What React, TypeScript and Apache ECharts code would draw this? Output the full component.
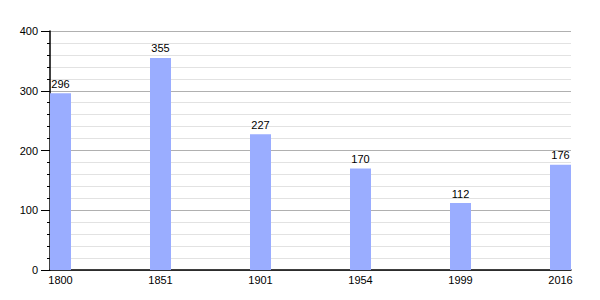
import React, { useEffect, useRef } from "react";
import * as echarts from "echarts";

const years = ["1800", "1851", "1901", "1954", "1999", "2016"];
const population = [296, 355, 227, 170, 112, 176];
const yTicks = [0, 100, 200, 300, 400];

export default function App() {
  const ref = useRef<HTMLDivElement>(null);
  useEffect(() => {
    if (!ref.current) return;
    const chart = echarts.init(ref.current, null, { renderer: "svg" });
    const positions = years.map((_, i) => i);
    chart.setOption({
      animation: false,
      textStyle: { fontFamily: "Liberation Sans, Arial, sans-serif" },
      grid: { left: 50, right: 29, top: 31, bottom: 30, containLabel: false },
      xAxis: {
        type: "value",
        min: -0.105,
        max: 5.105,
        splitLine: { show: false },
        axisTick: { show: false },
        axisLine: { show: true, lineStyle: { color: "#000", width: 1.5 } },
        axisLabel: {
          customValues: positions,
          formatter: (v: number) => years[Math.round(v)] ?? "",
          color: "#000",
          fontSize: 11,
          margin: 4,
        },
      },
      yAxis: {
        type: "value",
        min: yTicks[0],
        max: yTicks[yTicks.length - 1],
        interval: 100,
        axisLine: { show: true, onZero: false, lineStyle: { color: "#000", width: 1.5 } },
        axisTick: { show: true, length: 9, lineStyle: { color: "#000" } },
        minorTick: { show: true, splitNumber: 5, length: 3, lineStyle: { color: "#000" } },
        splitLine: { show: true, lineStyle: { color: "#b0b0b0", width: 1 } },
        minorSplitLine: { show: true, lineStyle: { color: "#e2e2e2", width: 1 } },
        axisLabel: { color: "#000", fontSize: 11, margin: 12 },
      },
      series: [
        {
          type: "bar",
          data: population.map((v, i) => [positions[i], v]),
          barWidth: 21,
          itemStyle: { color: "#9aadff" },
          label: {
            show: true,
            position: "top",
            distance: 4,
            color: "#000",
            fontSize: 11,
          },
        },
      ],
    });
    return () => chart.dispose();
  }, []);
  return (
    <div
      ref={ref}
      style={{ position: "absolute", left: 0, top: 0, width: 600, height: 300 }}
    />
  );
}
